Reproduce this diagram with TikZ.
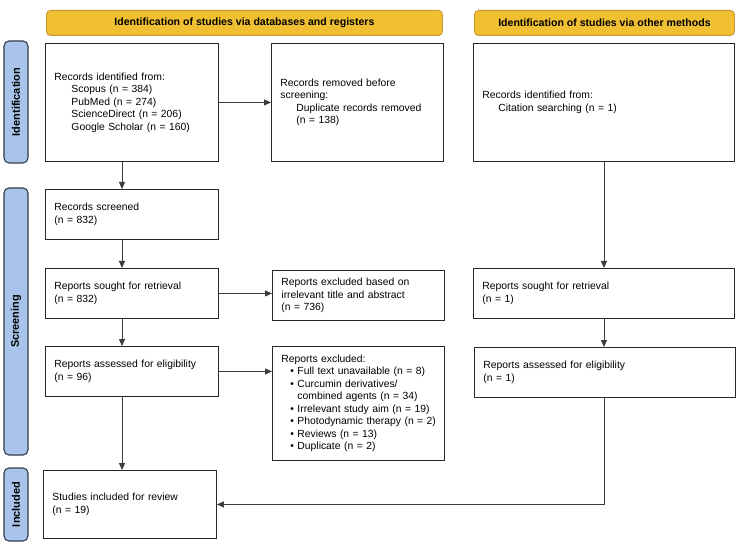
\documentclass[tikz,border=0pt]{standalone}
\usepackage{fontspec}
\setmainfont{Liberation Sans}
\usetikzlibrary{arrows.meta}
\definecolor{hdrfill}{RGB}{240,192,50}
\definecolor{hdrline}{RGB}{200,150,50}
\definecolor{sidefill}{RGB}{168,196,234}
\definecolor{sideline}{RGB}{50,60,75}
\definecolor{boxline}{RGB}{40,40,40}
\definecolor{arrline}{RGB}{60,60,60}
\newcommand{\pitem}[1]{\hspace*{9bp}\mbox{\makebox[7bp][l]{\textbullet}#1}}
\tikzset{
  txt/.style={font=\fontsize{10.4}{12.5}\selectfont},
  box/.style={txt, draw=boxline, line width=0.9bp, inner xsep=9bp, inner ysep=2bp,
    align=left, anchor=north west},
  hdr/.style={font=\fontsize{10.6}{12.5}\selectfont\bfseries, draw=hdrline, fill=hdrfill,
    line width=0.9bp, rounded corners=4bp, anchor=north west, inner sep=0pt},
  side/.style={font=\fontsize{11}{12.5}\selectfont\bfseries, draw=sideline, fill=sidefill,
    line width=1.1bp, rounded corners=5bp, rotate=90, inner sep=0pt, minimum height=24bp},
  arr/.style={draw=arrline, line width=0.9bp, -{Triangle[length=7bp,width=6bp]}},
}
\begin{document}
\begin{tikzpicture}[x=1bp,y=-1bp]
\useasboundingbox (0,0) rectangle (738,550);
% headers
\node[hdr, minimum width=396bp, minimum height=25bp] (h1) at (46,10) {Identification of studies via databases and registers};
\node[hdr, minimum width=260bp, minimum height=25bp] (h2) at (474,10) {Identification of studies via other methods};
% side bars
\node[side, minimum width=122bp] (s1) at (16,102) {Identification};
\node[side, minimum width=267bp] (s2) at (16,321.5) {Screening};
\node[side, minimum width=73bp] (s3) at (16,504.5) {Included};
% boxes
\node[box, text width=155bp, minimum height=118bp] (rec) at (45,43)
 {Records identified from:\\\hspace*{17bp}Scopus (n = 384)\\\hspace*{17bp}PubMed (n = 274)\\\hspace*{17bp}ScienceDirect (n = 206)\\\hspace*{17bp}Google Scholar (n = 160)};
\node[box, text width=154bp, minimum height=118bp] (rem) at (271,43)
 {Records removed before\\screening:\\\hspace*{16bp}Duplicate records removed\\\hspace*{16bp}(n = 138)};
\node[box, text width=243bp, minimum height=118bp] (oth) at (473,43)
 {Records identified from:\\\hspace*{16bp}Citation searching (n = 1)};
\node[box, text width=155bp, minimum height=50bp] (scr) at (45,189)
 {Records screened\\(n = 832)};
\node[box, text width=155bp, minimum height=50bp] (sou) at (45,268)
 {Reports sought for retrieval\\(n = 832)};
\node[box, text width=154bp, minimum height=50bp] (exc1) at (272,270)
 {Reports excluded based on\\irrelevant title and abstract\\(n = 736)};
\node[box, text width=243bp, minimum height=50bp] (osou) at (473,268)
 {Reports sought for retrieval\\(n = 1)};
\node[box, text width=155bp, minimum height=50bp] (ass) at (45,346)
 {Reports assessed for eligibility\\(n = 96)};
\node[box, text width=154bp, minimum height=114bp] (exc2) at (272,346)
 {Reports excluded:\\
  \pitem{Full text unavailable (n = 8)}\\
  \pitem{Curcumin derivatives/}\\
  \hspace*{16bp}combined agents (n = 34)\\
  \pitem{Irrelevant study aim (n = 19)}\\
  \pitem{Photodynamic therapy (n = 2)}\\
  \pitem{Reviews (n = 13)}\\
  \pitem{Duplicate (n = 2)}};
\node[box, text width=243bp, minimum height=50bp] (oass) at (474,347)
 {Reports assessed for eligibility\\(n = 1)};
\node[box, text width=155bp, minimum height=68bp] (inc) at (43,470)
 {Studies included for review\\(n = 19)};
% connectors
\coordinate (vx) at (122,0);
\draw[arr] (rec.east) -- (rem.west);
\draw[arr] (rec.south -| vx) -- (scr.north -| vx);
\draw[arr] (scr.south -| vx) -- (sou.north -| vx);
\draw[arr] (sou.east) -- (sou.east -| exc1.west);
\draw[arr] (sou.south -| vx) -- (ass.north -| vx);
\draw[arr] (ass.east) -- (ass.east -| exc2.west);
\draw[arr] (ass.south -| vx) -- (inc.north -| vx);
\draw[arr] (oth.south) -- (oth.south |- osou.north);
\draw[arr] (osou.south -| oth.south) -- (oass.north -| oth.south);
\draw[arr] (oass.south -| oth.south) |- (inc.east);
\end{tikzpicture}
\end{document}
